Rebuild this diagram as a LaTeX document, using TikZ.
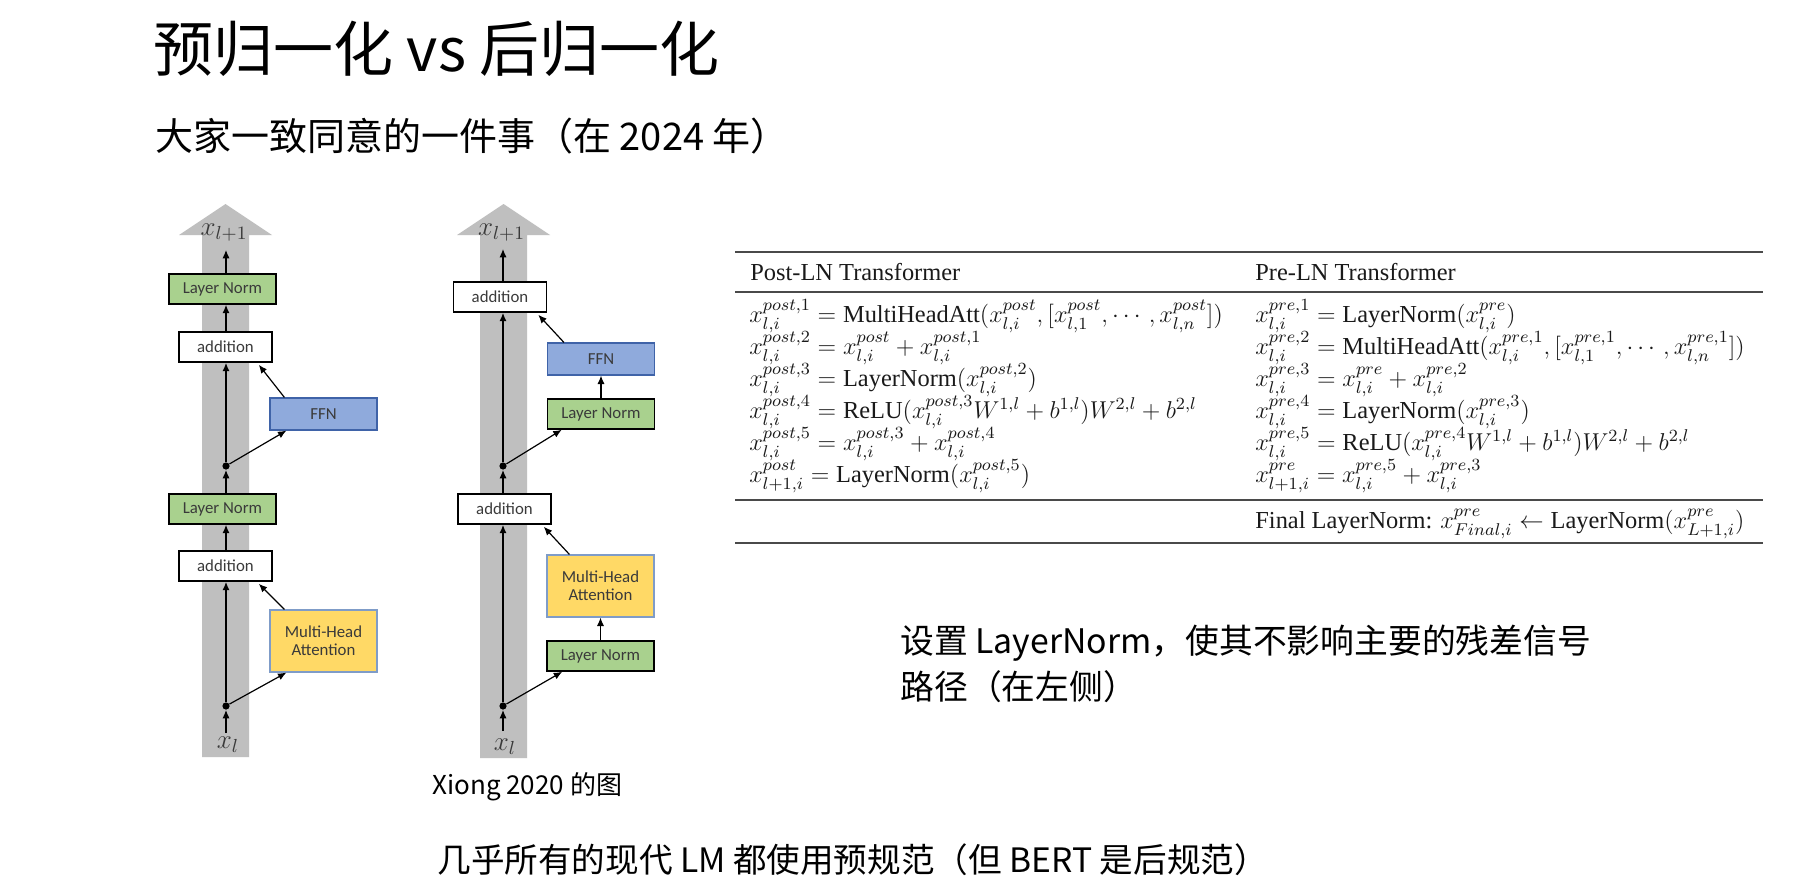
\RequirePackage{fix-cm}
\documentclass[tikz,border=0pt]{standalone}
\usepackage{amsmath}
\usepackage[no-math]{fontspec}
\newfontfamily\cjk{Noto Sans CJK SC}
\newfontfamily\boxfont{Carlito}
\newfontfamily\tabfont{Liberation Serif}
\usetikzlibrary{arrows.meta}
\definecolor{lngreen}{HTML}{A9D18E}
\definecolor{ffnblue}{HTML}{8FAADC}
\definecolor{ffnborder}{HTML}{3F63A8}
\definecolor{mhayellow}{HTML}{FFD966}
\definecolor{mhaborder}{HTML}{7F9CC8}
\definecolor{shaftgray}{HTML}{BFBFBF}
\definecolor{boxtext}{HTML}{3A3A3A}
\definecolor{rulegray}{HTML}{4A4A4A}
\definecolor{tabtext}{HTML}{1A1A1A}
\tikzset{
  x=0.5pt, y=-0.5pt,
  blk/.style={draw=black, line width=0.8pt, inner sep=0pt, text=boxtext,
    font=\boxfont\fontsize{8.4pt}{10pt}\selectfont},
  lnbox/.style={blk, fill=lngreen, minimum width=53.5pt, minimum height=15pt},
  addbox/.style={blk, fill=white, minimum width=46.5pt, minimum height=15pt},
  ffnbox/.style={blk, draw=ffnborder, line width=0.6pt, fill=ffnblue, minimum width=53.5pt, minimum height=16pt},
  mhabox/.style={blk, draw=mhaborder, line width=0.6pt, fill=mhayellow, minimum width=53.5pt, minimum height=31pt, align=center},
  jdot/.style={circle, fill=black, inner sep=0pt, minimum size=3.6pt},
  conn/.style={-{Latex[length=4.2pt,width=3.6pt]}, line width=0.6pt},
  mainconn/.style={-{Latex[length=4.2pt,width=3.6pt]}, line width=0.75pt},
  shaft/.style={fill=shaftgray, draw=none},
  xlab/.style={text=boxtext, inner sep=0pt, font=\fontsize{13.5pt}{15pt}\selectfont},
  cjktext/.style={inner sep=0pt, anchor=base west, text=black},
  tabline/.style={inner sep=0pt, anchor=base west, text=tabtext, text height=9.5pt, text depth=5pt, font=\tabfont\fontsize{12.2pt}{14pt}\selectfont},
  tabrule/.style={draw=rulegray, line width=0.95pt},
}
\begin{document}
\begin{tikzpicture}
\useasboundingbox[fill=white] (0,0) rectangle (1800,894);

% ---------- titles ----------
\node[cjktext, font=\cjk\fontsize{30pt}{34pt}\selectfont] (title) at (153,71) {预归一化 vs 后归一化};
\node[cjktext, font=\cjk\fontsize{19pt}{22pt}\selectfont] (subtitle) at (155,150) {大家一致同意的一件事（在 2024 年）};

% ---------- left diagram (Post-LN) ----------
\path[shaft] (202,757) -- (202,235) -- (179,235) -- (225.5,204) -- (272,235) -- (249,235) -- (249,757) -- cycle;
\node[xlab, anchor=base] (Lxout) at (224,235) {$x_{l+1}$};
\node[xlab, anchor=base] (Lxin) at (228,748) {$x_{l}$};
\node[lnbox] (LN1) at (222.5,289) {Layer Norm};
\node[addbox] (A1) at (225.5,347) {addition};
\node[ffnbox] (F1) at (323.5,414) {FFN};
\node[jdot] (L2) at (226,466) {};
\node[lnbox] (LN2) at (222.5,509) {Layer Norm};
\node[addbox] (A2) at (225.5,566) {addition};
\node[mhabox] (M1) at (323.5,641) {Multi-Head\\[-1pt]Attention};
\node[jdot] (L1) at (226,706) {};
\coordinate (Lin) at (226,733);
\coordinate (Lout) at (226,250);

\draw[conn] (Lin) -- (L1);
\draw[mainconn] (L1) -- (L1 |- A2.south);
\draw[conn] (L1) -- ([xshift=8.5pt]M1.south west);
\draw[conn] ([xshift=7.5pt]M1.north west) -- ([xshift=-7pt,yshift=-1pt]A2.south east);
\draw[conn] (A2.north -| L1) -- (L1 |- LN2.south);
\draw[conn] (LN2.north -| L1) -- (L2);
\draw[mainconn] (L2) -- (L2 |- A1.south);
\draw[conn] (L2) -- ([xshift=8.5pt]F1.south west);
\draw[conn] ([xshift=7.5pt]F1.north west) -- ([xshift=-7pt,yshift=-1pt]A1.south east);
\draw[conn] (A1.north -| L2) -- (L2 |- LN1.south);
\draw[conn] (LN1.north -| L2) -- (Lout);

% ---------- right diagram (Pre-LN) ----------
\path[shaft] (480,758) -- (480,235) -- (457,235) -- (503.5,204) -- (550,235) -- (527,235) -- (527,758) -- cycle;
\node[xlab, anchor=base] (Rxout) at (501.5,235) {$x_{l+1}$};
\node[xlab, anchor=base] (Rxin) at (505,750) {$x_{l}$};
\node[addbox] (RA1) at (500,297) {addition};
\node[ffnbox] (RF1) at (601,359) {FFN};
\node[lnbox] (RLN1) at (601,414) {Layer Norm};
\node[jdot] (R2) at (503,466) {};
\node[addbox] (RA2) at (504.5,509) {addition};
\node[mhabox] (RM1) at (600.5,586) {Multi-Head\\[-1pt]Attention};
\node[lnbox] (RLN2) at (600.5,656) {Layer Norm};
\node[jdot] (R1) at (503,706) {};
\coordinate (Rin) at (503,731);
\coordinate (Rout) at (503,249);

\draw[conn] (Rin) -- (R1);
\draw[mainconn] (R1) -- (R1 |- RA2.south);
\draw[conn] (R1) -- ([xshift=8pt]RLN2.south west);
\draw[conn] (RLN2.north) -- (RLN2.north |- RM1.south);
\draw[conn] ([xshift=11.5pt]RM1.north west) -- ([xshift=-4pt,yshift=-1pt]RA2.south east);
\draw[conn] (RA2.north -| R1) -- (R2);
\draw[mainconn] (R2) -- (R2 |- RA1.south);
\draw[conn] (R2) -- ([xshift=7.5pt]RLN1.south west);
\draw[conn] (RLN1.north) -- (RLN1.north |- RF1.south);
\draw[conn] ([xshift=8.5pt]RF1.north west) -- ([xshift=-4.5pt,yshift=-1pt]RA1.south east);
\draw[conn] (RA1.north -| R2) -- (Rout);

\node[cjktext, font=\cjk\fontsize{13pt}{15pt}\selectfont] (cap) at (432,794) {Xiong 2020 的图};

% ---------- table ----------
\coordinate (T0) at (735,252);
\coordinate (T1) at (1763,252);
\draw[tabrule, line width=1.1pt] (T0) -- (T1);
\draw[tabrule] (735,292) -- (1763,292);
\draw[tabrule] (735,500) -- (1763,500);
\draw[tabrule, line width=1.1pt] (735,543) -- (1763,543);

\node[tabline] (hpost) at (750,280) {Post-LN Transformer};
\node[tabline] (hpre) at (1255,280) {Pre-LN Transformer};

\node[tabline] (p1) at (749,322) {$x^{post,1}_{l,i} = \text{MultiHeadAtt}(x^{post}_{l,i}, [x^{post}_{l,1}, \cdots, x^{post}_{l,n}])$};
\node[tabline] (p2) at (749,354) {$x^{post,2}_{l,i} = x^{post}_{l,i} + x^{post,1}_{l,i}$};
\node[tabline] (p3) at (749,386) {$x^{post,3}_{l,i} = \text{LayerNorm}(x^{post,2}_{l,i})$};
\node[tabline] (p4) at (749,418) {$x^{post,4}_{l,i} = \text{ReLU}(x^{post,3}_{l,i}W^{1,l} + b^{1,l})W^{2,l} + b^{2,l}$};
\node[tabline] (p5) at (749,450) {$x^{post,5}_{l,i} = x^{post,3}_{l,i} + x^{post,4}_{l,i}$};
\node[tabline] (p6) at (749,482) {$x^{post}_{l+1,i} = \text{LayerNorm}(x^{post,5}_{l,i})$};

\node[tabline] (q1) at (1255,322) {$x^{pre,1}_{l,i} = \text{LayerNorm}(x^{pre}_{l,i})$};
\node[tabline] (q2) at (1255,354) {$x^{pre,2}_{l,i} = \text{MultiHeadAtt}(x^{pre,1}_{l,i}, [x^{pre,1}_{l,1}, \cdots, x^{pre,1}_{l,n}])$};
\node[tabline] (q3) at (1255,386) {$x^{pre,3}_{l,i} = x^{pre}_{l,i} + x^{pre,2}_{l,i}$};
\node[tabline] (q4) at (1255,418) {$x^{pre,4}_{l,i} = \text{LayerNorm}(x^{pre,3}_{l,i})$};
\node[tabline] (q5) at (1255,450) {$x^{pre,5}_{l,i} = \text{ReLU}(x^{pre,4}_{l,i}W^{1,l} + b^{1,l})W^{2,l} + b^{2,l}$};
\node[tabline] (q6) at (1255,482) {$x^{pre}_{l+1,i} = x^{pre,5}_{l,i} + x^{pre,3}_{l,i}$};

\node[tabline] (fin) at (1255,528) {Final LayerNorm: $x^{pre}_{Final,i} \leftarrow \text{LayerNorm}(x^{pre}_{L+1,i})$};

% ---------- right and bottom texts ----------
\node[cjktext, font=\cjk\fontsize{16.9pt}{20pt}\selectfont] (note1) at (900,653) {设置 LayerNorm，使其不影响主要的残差信号};
\node[cjktext, font=\cjk\fontsize{16.9pt}{20pt}\selectfont] (note2) at (900,699) {路径（在左侧）};
\node[cjktext, font=\cjk\fontsize{16.8pt}{20pt}\selectfont] (bottom) at (437,872) {几乎所有的现代 LM 都使用预规范（但 BERT 是后规范）};
\end{tikzpicture}
\end{document}
